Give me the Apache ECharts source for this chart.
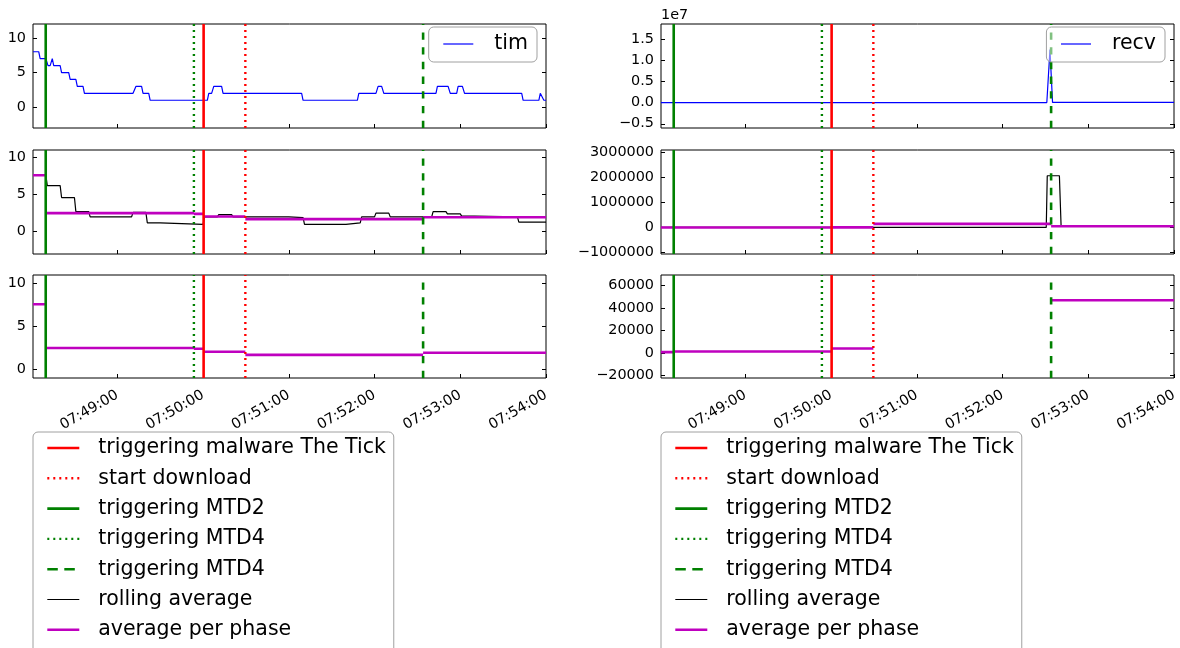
<!DOCTYPE html>
<html>
<head>
<meta charset="utf-8">
<title>tim / recv around the malware trigger</title>
<script src="https://cdn.jsdelivr.net/npm/echarts@6/dist/echarts.min.js"></script>
<style>
  html, body { margin: 0; padding: 0; background: #fff; }
  #chart { width: 1180px; height: 648px; }
</style>
</head>
<body>
<div id="chart"></div>
<script>
// Time is counted in seconds after 07:48:00.
const xTickSec = [60, 120, 180, 240, 300, 360];

// Raw "tim" samples (polyline vertices)
const timSec = [1, 5, 6, 10, 11.5, 13, 14.5, 15.5, 20, 21, 26, 27, 31, 32, 36, 37, 71, 73, 77, 78,
  82, 83, 123, 124, 126, 127.5, 133, 134, 189, 190, 228, 229, 241, 242.5, 245, 246.5, 283, 284, 291.5, 293,
  297.5, 298.5, 301.5, 303, 343, 344, 355, 356, 357, 358.5, 360];
const timVal = [8, 8, 7, 7, 6, 6, 7, 6, 6, 5, 5, 4, 4, 3, 3, 2, 2, 3, 3, 2,
  2, 1, 1, 2, 2, 3, 3, 2, 2, 1, 1, 2, 2, 3, 3, 2, 2, 3, 3, 2,
  2, 3, 3, 2, 2, 1, 1, 2, 2, 1, 1];

// Rolling average of "tim"
const rollSecL = [1, 10, 11, 20, 21, 30, 31, 40, 41, 70, 71, 80, 81, 90, 91, 120, 121, 130, 131, 140, 141, 180,
  181, 190, 191, 220, 221, 230, 231, 240, 241, 250, 251, 280, 281, 290, 291, 300, 301, 310, 311, 340, 341, 360];
const rollValL = [7.6, 7.6, 6.2, 6.2, 4.6, 4.6, 2.7, 2.7, 2.0, 2.0, 2.6, 2.6, 1.2, 1.2, 1.0, 1.0, 2.0, 2.0, 2.3, 2.3, 2.0, 2.0,
  1.9, 1.9, 1.0, 1.0, 1.2, 1.2, 2.0, 2.0, 2.5, 2.5, 2.0, 2.0, 2.7, 2.7, 2.4, 2.4, 2.1, 2.1, 2.0, 2.0, 1.3, 1.3];

// Raw "recv" samples
const recvSec = [1, 10, 11, 120, 121, 150, 151, 271, 273.2, 275, 360];
const recvVal = [900, 900, 1500, 1500, 4000, 4000, 2000, 2000, 12500000, 46000, 46000];

// Rolling average of "recv"
const rollSecR = [1, 10, 11, 120, 121, 150, 151, 270.6, 271.3, 279.8, 281, 360];
const rollValR = [900, 900, 1500, 1500, 4000, 4000, 2000, 2000, 2050000, 2050000, 40000, 40000];

// Phases and their averages
const phaseBounds = [1, 9.9, 113.6, 120.4, 149.6, 274, 360];
const phaseL = [7.6, 2.5, 2.4, 2.05, 1.7, 1.95];
const phaseR = [880, 1460, 1500, 4100, 145000, 46800];

// Event markers
const markerSec = [120.4, 149.6, 9.9, 113.6, 274];
const markerName = ['triggering malware The Tick', 'start download', 'triggering MTD2', 'triggering MTD4', 'triggering MTD4 '];

// Axis ranges and ticks per panel: left column top..bottom, then right column
const yRange = [[-3, 12], [-3, 11], [-1, 11], [-0.6e7, 1.855e7], [-1.05e6, 3.07e6], [-22000, 69200]];
const yTicks = [[0, 5, 10], [0, 5, 10], [0, 5, 10],
  [-0.5e7, 0, 0.5e7, 1e7, 1.5e7], [-1e6, 0, 1e6, 2e6, 3e6], [-20000, 0, 20000, 40000, 60000]];

const FONT = 'DejaVu Sans';
const MINUS = '\u2212';
const colLeft = [33, 661];
const rowTop = [24, 150, 275];
const panelW = 513, panelH = 104;

const markerStyle = [
  { color: '#ff0000', width: 2.6, type: 'solid' },
  { color: '#ff0000', width: 2.4, type: [2, 4] },
  { color: '#008000', width: 2.6, type: 'solid' },
  { color: '#008000', width: 2.4, type: [2, 4] },
  { color: '#008000', width: 2.6, type: [7.35, 7.35] }
];
// legend handles draw the dashed pattern a little longer
const markerLegendType = ['solid', [2, 4], 'solid', [2, 4], [10.5, 6.5]];
const thinW = 1.2, thickW = 2.6;

function zip(xs, ys) { return xs.map((x, i) => [x, ys[i]]); }
function pad(n) { return (n < 10 ? '0' : '') + n; }
function clock(t) {
  const s = Math.round(t) + 7 * 3600 + 48 * 60;
  return pad(Math.floor(s / 3600)) + ':' + pad(Math.floor(s / 60) % 60) + ':' + pad(s % 60);
}
function signed(str, v) { return v < 0 ? MINUS + str.replace('-', '') : str; }
const yFormat = [
  v => signed(String(v), v), v => signed(String(v), v), v => signed(String(v), v),
  v => signed((v / 1e7).toFixed(1), v), v => signed(String(v), v), v => signed(String(v), v)
];
function phaseData(vals) {
  const out = [];
  vals.forEach((v, i) => {
    out.push([phaseBounds[i], v], [phaseBounds[i + 1], v]);
    if (i < vals.length - 1) out.push([phaseBounds[i + 1], '-']);
  });
  return out;
}

const grids = [], xAxes = [], yAxes = [], series = [];
for (let g = 0; g < 6; g++) {
  const col = g < 3 ? 0 : 1, row = g % 3;
  grids.push({
    left: colLeft[col], top: rowTop[row], width: panelW, height: row === 2 ? panelH - 1 : panelH,
    show: true, borderColor: '#000', borderWidth: 1, backgroundColor: 'transparent',
    outerBoundsMode: 'none'
  });
  xAxes.push({
    type: 'value', gridIndex: g, min: 1, max: 360, position: 'bottom',
    axisLine: { show: false, onZero: false }, splitLine: { show: false },
    axisTick: { inside: true, length: 4, lineStyle: { color: '#000' }, customValues: xTickSec },
    axisLabel: {
      show: row === 2, customValues: xTickSec, rotate: 30, margin: 16,
      formatter: clock, fontFamily: FONT, fontSize: 14.4, color: '#000',
      showMinLabel: true, showMaxLabel: true
    }
  });
  const yBase = {
    type: 'value', gridIndex: g, min: yRange[g][0], max: yRange[g][1],
    axisLine: { show: false, onZero: false }, splitLine: { show: false },
    axisTick: { inside: true, length: 4, lineStyle: { color: '#000' }, customValues: yTicks[g] }
  };
  yAxes.push(Object.assign({}, yBase, {
    position: 'left',
    axisLabel: {
      customValues: yTicks[g], formatter: yFormat[g], margin: 7,
      fontFamily: FONT, fontSize: 14.4, color: '#000', showMinLabel: true, showMaxLabel: true
    },
    name: g === 3 ? '1e7' : '', nameLocation: 'end', nameGap: 2,
    nameTextStyle: { align: 'left', fontFamily: FONT, fontSize: 14.4, color: '#000' }
  }));
  yAxes.push(Object.assign({}, yBase, { position: 'right', axisLabel: { show: false } }));
}

function lineSeries(name, g, data, color, width) {
  return {
    type: 'line', name, xAxisIndex: g, yAxisIndex: 2 * g, data, symbol: 'none',
    connectNulls: false, animation: false, silent: true,
    itemStyle: { color }, lineStyle: { color, width }, z: 2
  };
}

// measured data
series.push(lineSeries('tim', 0, zip(timSec, timVal), '#0000ff', thinW));
series.push(lineSeries('rolling average', 1, zip(rollSecL, rollValL), '#000000', thinW));
series.push(lineSeries('average per phase', 1, phaseData(phaseL), '#bf00bf', thickW));
series.push(lineSeries('average per phase', 2, phaseData(phaseL), '#bf00bf', thickW));
series.push(lineSeries('recv', 3, zip(recvSec, recvVal), '#0000ff', thinW));
series.push(lineSeries('rolling average', 4, zip(rollSecR, rollValR), '#000000', thinW));
series.push(lineSeries('average per phase', 4, phaseData(phaseR), '#bf00bf', thickW));
series.push(lineSeries('average per phase', 5, phaseData(phaseR), '#bf00bf', thickW));

// event markers across every panel, drawn bottom to top
for (let g = 0; g < 6; g++) {
  markerSec.forEach((t, k) => {
    const st = markerStyle[k];
    series.push({
      type: 'line', name: markerName[k], xAxisIndex: g, yAxisIndex: 2 * g,
      data: [[t, yRange[g][0]], [t, yRange[g][1]]], symbol: 'none', silent: true, animation: false,
      itemStyle: { color: st.color }, lineStyle: { color: st.color, width: st.width, type: st.type }, z: 3
    });
  });
}

// legend handles: plain line of the series' own width, no marker glyph
const hiddenMark = { color: 'rgba(0,0,0,0)', borderColor: 'rgba(0,0,0,0)', borderWidth: 0 };
const legendText = { fontFamily: FONT, fontSize: 20.5, color: '#000', lineHeight: 22 };
const bottomItems = markerName.map((n, k) => ({
    name: n, lineStyle: { width: markerStyle[k].width, type: markerLegendType[k] }
  }))
  .concat([{ name: 'rolling average', lineStyle: { width: thinW } },
           { name: 'average per phase', lineStyle: { width: thickW } }]);
function bottomLegend(left) {
  return {
    orient: 'vertical', left, top: 432, height: 400, data: bottomItems, selectedMode: false,
    itemWidth: 32, itemHeight: 14, itemGap: 8.3, padding: [5, 8, 30, 13],
    itemStyle: hiddenMark,
    backgroundColor: 'rgba(255,255,255,0.5)', borderColor: '#a0a0a0', borderWidth: 1, borderRadius: 5,
    textStyle: Object.assign({ padding: [0, 0, 0, 14] }, legendText)
  };
}
function topLegend(name, right) {
  return {
    orient: 'vertical', right, top: 27, data: [{ name, lineStyle: { width: thinW } }], selectedMode: false,
    itemWidth: 30, itemHeight: 14, padding: [6, 9, 7, 14],
    itemStyle: hiddenMark,
    backgroundColor: 'rgba(255,255,255,0.5)', borderColor: '#a0a0a0', borderWidth: 1, borderRadius: 5,
    textStyle: Object.assign({ padding: [0, 0, 0, 16] }, legendText)
  };
}

const chart = echarts.init(document.getElementById('chart'), null, { renderer: 'canvas' });
chart.setOption({
  animation: false,
  backgroundColor: '#fff',
  textStyle: { fontFamily: FONT },
  grid: grids,
  xAxis: xAxes,
  yAxis: yAxes,
  legend: [topLegend('tim', 643), topLegend('recv', 15), bottomLegend(33), bottomLegend(661)],
  series
});
</script>
</body>
</html>
